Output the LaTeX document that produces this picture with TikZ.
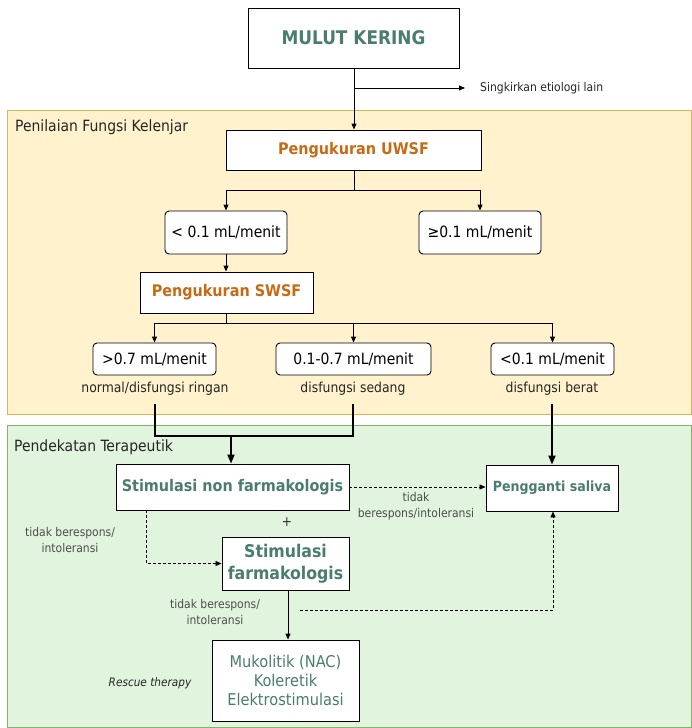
\documentclass[tikz,border=0pt]{standalone}
\usepackage{fontspec}
\setmainfont{DejaVu Sans Condensed}
\usetikzlibrary{arrows.meta}
\definecolor{teal}{HTML}{4A7D70}
\definecolor{orng}{HTML}{C86A14}
\definecolor{yelfill}{HTML}{FFF2CC}
\definecolor{yeldraw}{HTML}{D6B656}
\definecolor{grnfill}{HTML}{E1F4DE}
\definecolor{grndraw}{HTML}{82B366}
\definecolor{lbl}{HTML}{4D4D4D}
\tikzset{
  box/.style={draw=black, fill=white, line width=0.9pt, inner sep=0pt, align=center},
  rbox/.style={box, rounded corners=4pt},
  head/.style={font=\bfseries\fontsize{16}{18}\selectfont},
  plain/.style={font=\fontsize{15.5}{18}\selectfont},
  small/.style={font=\fontsize{12}{16}\selectfont, text=lbl, align=center, inner sep=0pt},
  sublbl/.style={font=\fontsize{13.8}{16}\selectfont, text=black!85, inner sep=0pt},
  conn/.style={line width=0.9pt, -{Triangle[length=6pt,width=5pt]}},
  thk/.style={line width=1.8pt},
  thkarr/.style={thk, -{Triangle[length=9pt,width=7pt]}},
  dsh/.style={line width=0.8pt, dash pattern=on 3pt off 2pt, -{Triangle[length=6pt,width=5pt]}},
  region/.style={line width=0.8pt},
}
\begin{document}
\begin{tikzpicture}[x=1pt,y=-1pt]
\useasboundingbox (0,0) rectangle (692,728);
\fill[white] (0,0) rectangle (692,728);

% background regions
\draw[region, fill=yelfill, draw=yeldraw] (7,110) rectangle (691,414);
\draw[region, fill=grnfill, draw=grndraw] (7,425) rectangle (691,727.5);
\node[anchor=west, plain, text=black!85, inner sep=0pt] (t1) at (15,127) {Penilaian Fungsi Kelenjar};
\node[anchor=west, plain, text=black!85, inner sep=0pt] (t2) at (14,447) {Pendekatan Terapeutik};

% top
\node[box, minimum width=211pt, minimum height=60pt, text=teal, font=\bfseries\fontsize{18.8}{22}\selectfont] (mk) at (353.5,38) {MULUT KERING};
\node[box, minimum width=255pt, minimum height=40pt, head, text=orng] (uwsf) at (353.5,150) {Pengukuran UWSF};
\coordinate (br) at (354,88);
\coordinate (brend) at (465,88);
\node[anchor=west, small, text=black!85] (sing) at (480,88) {Singkirkan etiologi lain};
\draw[line width=0.9pt] (mk.south -| br) -- (br);
\draw[conn] (br) -- (uwsf.north -| br);
\draw[conn] (br) -- (brend);

% UWSF branches
\node[rbox, minimum width=122pt, minimum height=43pt, plain] (lt) at (226,232.5) {< 0.1 mL/menit};
\node[rbox, minimum width=122pt, minimum height=43pt, plain] (ge) at (480,232.5) {≥0.1 mL/menit};
\coordinate (j1) at (354,190);
\draw[line width=0.9pt] (uwsf.south -| j1) -- (j1);
\draw[conn] (j1) -| (lt.north);
\draw[conn] (j1) -| (ge.north);

% SWSF
\node[box, minimum width=173pt, minimum height=41pt, head, text=orng] (swsf) at (226.5,292.5) {Pengukuran SWSF};
\draw[conn] (lt.south) -- (swsf.north -| lt.south);

\node[rbox, minimum width=123pt, minimum height=32pt, plain] (a) at (154.5,359) {>0.7 mL/menit};
\node[rbox, minimum width=155pt, minimum height=32pt, plain] (b) at (353.5,359) {0.1-0.7 mL/menit};
\node[rbox, minimum width=123pt, minimum height=32pt, plain] (c) at (552.5,359) {<0.1 mL/menit};
\coordinate (j2) at (226,323);
\draw[line width=0.9pt] (swsf.south -| j2) -- (j2);
\draw[conn] (j2) -| (a.north);
\draw[conn] (j2) -| (b.north);
\draw[conn] (j2) -| (c.north);

\node[sublbl] (la) at (155,389) {normal/disfungsi ringan};
\node[sublbl] (lb) at (353,389) {disfungsi sedang};
\node[sublbl] (lc) at (552,389) {disfungsi berat};

% therapy
\node[box, minimum width=233pt, minimum height=46pt, head, text=teal] (stn) at (232.5,487) {Stimulasi non farmakologis};
\node[box, minimum width=132pt, minimum height=46pt, text=teal, font=\bfseries\fontsize{14}{16}\selectfont] (ps) at (552,488) {Pengganti saliva};
\node[box, minimum width=127pt, minimum height=53pt, text=teal, font=\bfseries\fontsize{17.5}{22}\selectfont] (sf) at (285.5,563.5) {Stimulasi\\farmakologis};
\node[box, minimum width=147pt, minimum height=81pt, text=teal, font=\fontsize{16.2}{19}\selectfont] (mu) at (285.5,680.5) {Mukolitik (NAC)\\Koleretik\\Elektrostimulasi};

% thick joins
\coordinate (ua) at (155,404);
\coordinate (ub) at (353,404);
\coordinate (uc) at (552,404);
\coordinate (da) at (155,436);
\coordinate (db) at (353,436);
\coordinate (jn) at (231,436);
\draw[thk, line join=miter] (ua) -- (da) -- (db) -- (ub);
\draw[thkarr] (jn) -- (jn |- stn.north);
\draw[thkarr] (uc) -- (uc |- ps.north);

% dashed and plain follow-ups
\draw[dsh] (stn.east) -- (stn.east -| ps.west);
\node[small] (l1) at (416,506) {tidak\\berespons/intoleransi};
\node[font=\fontsize{14}{15}\selectfont, text=black!80] (plus) at (287,522) {+};

\coordinate (s1) at (146,510);
\draw[dsh] (s1 |- stn.south) |- (sf.west);
\node[small] (l2) at (70,540) {tidak berespons/\\intoleransi};

\draw[conn] (sf.south -| 288,0) -- (mu.north -| 288,0);
\node[small] (l3) at (215,612) {tidak berespons/\\intoleransi};

\coordinate (d1) at (300,610);
\coordinate (d2) at (553,610);
\draw[dsh] (d1) -- (d2) -- (d2 |- ps.south);

\node[font=\itshape\fontsize{11.7}{13}\selectfont, text=black!85] (rt) at (150,683) {Rescue therapy};
\end{tikzpicture}
\end{document}
